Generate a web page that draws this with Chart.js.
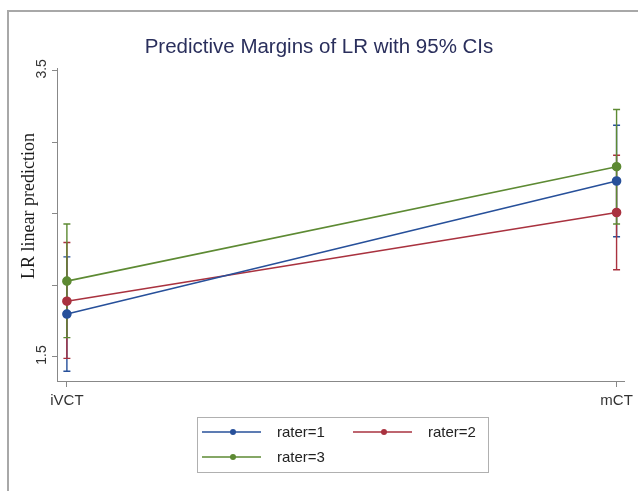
<!DOCTYPE html>
<html>
<head>
<meta charset="utf-8">
<script src="https://cdn.jsdelivr.net/npm/chart.js@4.4.1/dist/chart.umd.min.js"></script>
<style>
  html, body { margin: 0; padding: 0; background: #ffffff; }
  #wrap { position: relative; width: 638px; height: 491px; }
  canvas { display: block; }
</style>
</head>
<body>
<div id="wrap"><canvas id="c" width="638" height="491"></canvas></div>
<script>
// ---- data ----
const categories = ["iVCT", "mCT"];
const seriesNames = ["rater=1", "rater=2", "rater=3"];
const rater1 = [1.80, 2.73];
const rater1Lo = [1.40, 2.34];
const rater1Hi = [2.20, 3.12];
const rater2 = [1.89, 2.51];
const rater2Lo = [1.49, 2.11];
const rater2Hi = [2.30, 2.91];
const rater3 = [2.03, 2.83];
const rater3Lo = [1.635, 2.43];
const rater3Hi = [2.43, 3.23];
const yTickLabels = ["1.5", "3.5"];

const colors = ["#27509a", "#a9323f", "#5d8a33"];
const titleText = "Predictive Margins of LR with 95% CIs";
const yTitleText = "LR linear prediction";

function pts(vals) { return vals.map((v, i) => ({ x: i, y: v })); }

const datasets = [
  { label: seriesNames[0], data: pts(rater1), lo: rater1Lo, hi: rater1Hi },
  { label: seriesNames[1], data: pts(rater2), lo: rater2Lo, hi: rater2Hi },
  { label: seriesNames[2], data: pts(rater3), lo: rater3Lo, hi: rater3Hi }
].map((d, i) => Object.assign(d, {
  borderColor: colors[i],
  backgroundColor: colors[i],
  pointBackgroundColor: colors[i],
  pointBorderColor: colors[i],
  pointRadius: 4,
  pointHoverRadius: 4,
  borderWidth: 1.6,
  tension: 0,
  fill: false
}));

const errorBars = {
  id: 'errorBars',
  beforeDatasetsDraw(chart) {
    const ctx = chart.ctx;
    const xs = chart.scales.x, ys = chart.scales.y;
    ctx.save();
    chart.data.datasets.forEach((ds) => {
      ctx.strokeStyle = ds.borderColor;
      ctx.lineWidth = 1.4;
      ds.data.forEach((p, j) => {
        const x = xs.getPixelForValue(p.x);
        const y1 = ys.getPixelForValue(ds.lo[j]);
        const y2 = ys.getPixelForValue(ds.hi[j]);
        ctx.beginPath();
        ctx.moveTo(x, y1); ctx.lineTo(x, y2);
        ctx.moveTo(x - 3.5, y1); ctx.lineTo(x + 3.5, y1);
        ctx.moveTo(x - 3.5, y2); ctx.lineTo(x + 3.5, y2);
        ctx.stroke();
      });
    });
    ctx.restore();
  }
};

const decorations = {
  id: 'decorations',
  afterDraw(chart) {
    const ctx = chart.ctx;
    const ys = chart.scales.y;
    ctx.save();
    // outer frame
    ctx.strokeStyle = "#a8a8a8";
    ctx.lineWidth = 2;
    ctx.beginPath();
    ctx.moveTo(8, 491); ctx.lineTo(8, 11); ctx.lineTo(638, 11);
    ctx.stroke();
    // title
    ctx.fillStyle = "#2a2f5c";
    ctx.font = "20.5px 'Liberation Sans', Arial, sans-serif";
    ctx.textAlign = "center";
    ctx.textBaseline = "middle";
    ctx.fillText(titleText, 319, 47);
    // y title
    ctx.save();
    ctx.translate(29, 206);
    ctx.rotate(-Math.PI / 2);
    ctx.fillStyle = "#1a1a1a";
    ctx.font = "18px 'Liberation Serif', 'Times New Roman', serif";
    ctx.fillText(yTitleText, 0, 0);
    ctx.restore();
    // y tick labels (rotated)
    yTickLabels.forEach((t) => {
      const y = ys.getPixelForValue(parseFloat(t));
      ctx.save();
      ctx.translate(42, y - 2);
      ctx.rotate(-Math.PI / 2);
      ctx.fillStyle = "#333333";
      ctx.font = "14px 'Liberation Sans', Arial, sans-serif";
      ctx.textAlign = "center";
      ctx.textBaseline = "middle";
      ctx.fillText(t, 0, 0);
      ctx.restore();
    });
    // legend
    const bx = 197, by = 417, bw = 291, bh = 55;
    ctx.strokeStyle = "#b0b0b0";
    ctx.lineWidth = 1;
    ctx.strokeRect(bx + 0.5, by + 0.5, bw, bh);
    const slots = [[202, 432], [353, 432], [202, 457]];
    ctx.font = "15px 'Liberation Sans', Arial, sans-serif";
    ctx.textAlign = "left";
    ctx.textBaseline = "middle";
    chart.data.datasets.forEach((ds, i) => {
      const [lx, ly] = slots[i];
      ctx.strokeStyle = ds.borderColor;
      ctx.lineWidth = 1.3;
      ctx.beginPath();
      ctx.moveTo(lx, ly); ctx.lineTo(lx + 59, ly);
      ctx.stroke();
      ctx.fillStyle = ds.borderColor;
      ctx.beginPath();
      ctx.arc(lx + 31, ly, 3, 0, Math.PI * 2);
      ctx.fill();
      ctx.fillStyle = "#222222";
      ctx.fillText(ds.label, lx + 75, ly + 1);
    });
    ctx.restore();
  }
};

new Chart(document.getElementById('c'), {
  type: 'line',
  data: { datasets },
  options: {
    responsive: false,
    animation: false,
    events: [],
    layout: { padding: { top: 68, right: 13, bottom: 0, left: 0 } },
    plugins: {
      legend: { display: false },
      title: { display: false },
      tooltip: { enabled: false }
    },
    scales: {
      x: {
        type: 'linear',
        min: -0.018,
        max: 1.0145,
        afterBuildTicks(scale) { scale.ticks = categories.map((c, i) => ({ value: i })); },
        afterFit(scale) { scale.height = 110; },
        ticks: {
          callback: (v) => categories[v] !== undefined ? categories[v] : '',
          color: "#333333",
          font: { family: "'Liberation Sans', Arial, sans-serif", size: 15 },
          padding: 5,
          maxRotation: 0
        },
        grid: { drawOnChartArea: false, tickLength: 6, color: "#888888", lineWidth: 1 },
        border: { color: "#888888", width: 1 }
      },
      y: {
        type: 'linear',
        min: 1.332,
        max: 3.52,
        afterBuildTicks(scale) { scale.ticks = [1.5, 2, 2.5, 3, 3.5].map(v => ({ value: v })); },
        afterFit(scale) { scale.width = 57; },
        ticks: { display: false },
        grid: { drawOnChartArea: false, tickLength: 5, color: "#888888", lineWidth: 1 },
        border: { color: "#888888", width: 1 }
      }
    }
  },
  plugins: [errorBars, decorations]
});
</script>
</body>
</html>
